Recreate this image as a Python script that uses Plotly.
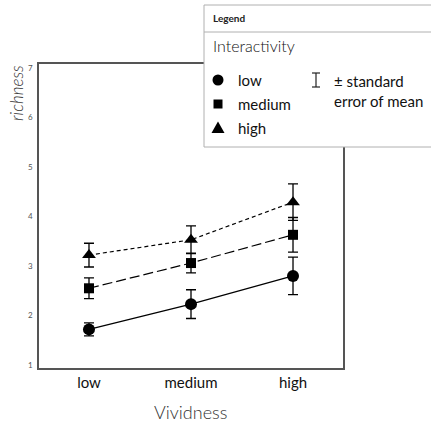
import plotly.graph_objects as go

# Vividness levels on the x axis
vividness = ["low", "medium", "high"]

# Mean richness per interactivity level, with standard error of the mean
low_mean = [1.72, 2.23, 2.80]
low_se = [0.13, 0.29, 0.38]
medium_mean = [2.55, 3.06, 3.63]
medium_se = [0.21, 0.20, 0.35]
high_mean = [3.22, 3.53, 4.29]
high_se = [0.24, 0.28, 0.37]

y_ticks = [1, 2, 3, 4, 5, 6, 7]

FONT = "Lato"
W, H = 431, 426
L, R, T, B = 39, 88, 64, 58
PW, PH = W - L - R, H - T - B


def px(x):
    return (x - L) / PW


def py(y):
    return (H - B - y) / PH


series = [
    ("low", low_mean, low_se, "circle", 12, "solid"),
    ("medium", medium_mean, medium_se, "square", 10, "10px,4px"),
    ("high", high_mean, high_se, "triangle-up", 12, "4px,3px"),
]

fig = go.Figure()
for name, mean, se, sym, size, dash in series:
    fig.add_trace(go.Scatter(
        x=vividness, y=mean, name=name, mode="lines+markers",
        line=dict(color="black", width=1.2, dash=dash),
        marker=dict(symbol=sym, size=size, color="black"),
        error_y=dict(type="data", array=se, color="black", thickness=1.3, width=5),
        showlegend=False,
    ))

shapes = []
annotations = []

# Legend panel
shapes.append(dict(type="rect", xref="paper", yref="paper",
                   x0=px(204), x1=px(445), y0=py(147), y1=py(5),
                   line=dict(color="#b0b0b0", width=1), fillcolor="white", layer="above"))
shapes.append(dict(type="line", xref="paper", yref="paper",
                   x0=px(204), x1=px(445), y0=py(32), y1=py(32),
                   line=dict(color="#b0b0b0", width=1), layer="above"))
annotations.append(dict(text="<b>Legend</b>", xref="paper", yref="paper",
                        x=px(211), y=py(18), xanchor="left", yanchor="middle",
                        showarrow=False, font=dict(family=FONT, size=10, color="#222")))
annotations.append(dict(text="Interactivity", xref="paper", yref="paper",
                        x=px(211), y=py(45), xanchor="left", yanchor="middle",
                        showarrow=False, font=dict(family=FONT, size=16, color="#111", weight=300)))

# Legend symbols
mx = 218
shapes.append(dict(type="circle", xref="paper", yref="paper",
                   x0=px(mx - 5.5), x1=px(mx + 5.5), y0=py(80 + 5.5), y1=py(80 - 5.5),
                   fillcolor="black", line=dict(width=0), layer="above"))
shapes.append(dict(type="rect", xref="paper", yref="paper",
                   x0=px(mx - 4.5), x1=px(mx + 4.5), y0=py(104 + 4.5), y1=py(104 - 4.5),
                   fillcolor="black", line=dict(width=0), layer="above"))
tri = "M {} {} L {} {} L {} {} Z".format(
    px(mx - 6.5), py(133), px(mx + 6.5), py(133), px(mx), py(121.5))
shapes.append(dict(type="path", xref="paper", yref="paper", path=tri,
                   fillcolor="black", line=dict(width=0), layer="above"))
# error bar glyph
ex = 316
for seg in [(ex, 73, ex, 87), (ex - 4, 73, ex + 4, 73), (ex - 4, 87, ex + 4, 87)]:
    shapes.append(dict(type="line", xref="paper", yref="paper",
                       x0=px(seg[0]), y0=py(seg[1]), x1=px(seg[2]), y1=py(seg[3]),
                       line=dict(color="#222", width=1.2), layer="above"))

for label, yy in [("low", 80), ("medium", 104), ("high", 128)]:
    annotations.append(dict(text=label, xref="paper", yref="paper",
                            x=px(236), y=py(yy), xanchor="left", yanchor="middle",
                            showarrow=False, font=dict(family=FONT, size=15, color="#111")))
annotations.append(dict(text="± standard<br>error of mean", xref="paper", yref="paper",
                        x=px(332), y=py(91), xanchor="left", yanchor="middle", align="left",
                        showarrow=False, font=dict(family=FONT, size=15, color="#111")))

# Axis titles
annotations.append(dict(text="<i>richness</i>", xref="paper", yref="paper",
                        x=px(16), y=py(93), xanchor="center", yanchor="middle",
                        textangle=-90, showarrow=False,
                        font=dict(family=FONT, size=17, color="#333", weight=300)))
annotations.append(dict(text="Vividness", xref="paper", yref="paper",
                        x=px(190), y=py(412), xanchor="center", yanchor="middle",
                        showarrow=False, font=dict(family=FONT, size=18, color="#333", weight=300)))

fig.update_layout(
    width=W, height=H,
    margin=dict(l=L, r=R, t=T, b=B),
    paper_bgcolor="white", plot_bgcolor="white",
    shapes=shapes, annotations=annotations,
    xaxis=dict(range=[-0.49, 2.49], showgrid=False, zeroline=False,
               showline=True, mirror=True, linecolor="#555", linewidth=1.5,
               ticks="", tickfont=dict(family=FONT, size=15, color="#111")),
    yaxis=dict(range=[0.94, 7.08], tickvals=y_ticks, showgrid=False, zeroline=False,
               showline=True, mirror=True, linecolor="#555", linewidth=1.5,
               ticks="", ticklabelstandoff=3,
               tickfont=dict(family=FONT, size=8, color="#555")),
)

fig.write_html("out.html")
